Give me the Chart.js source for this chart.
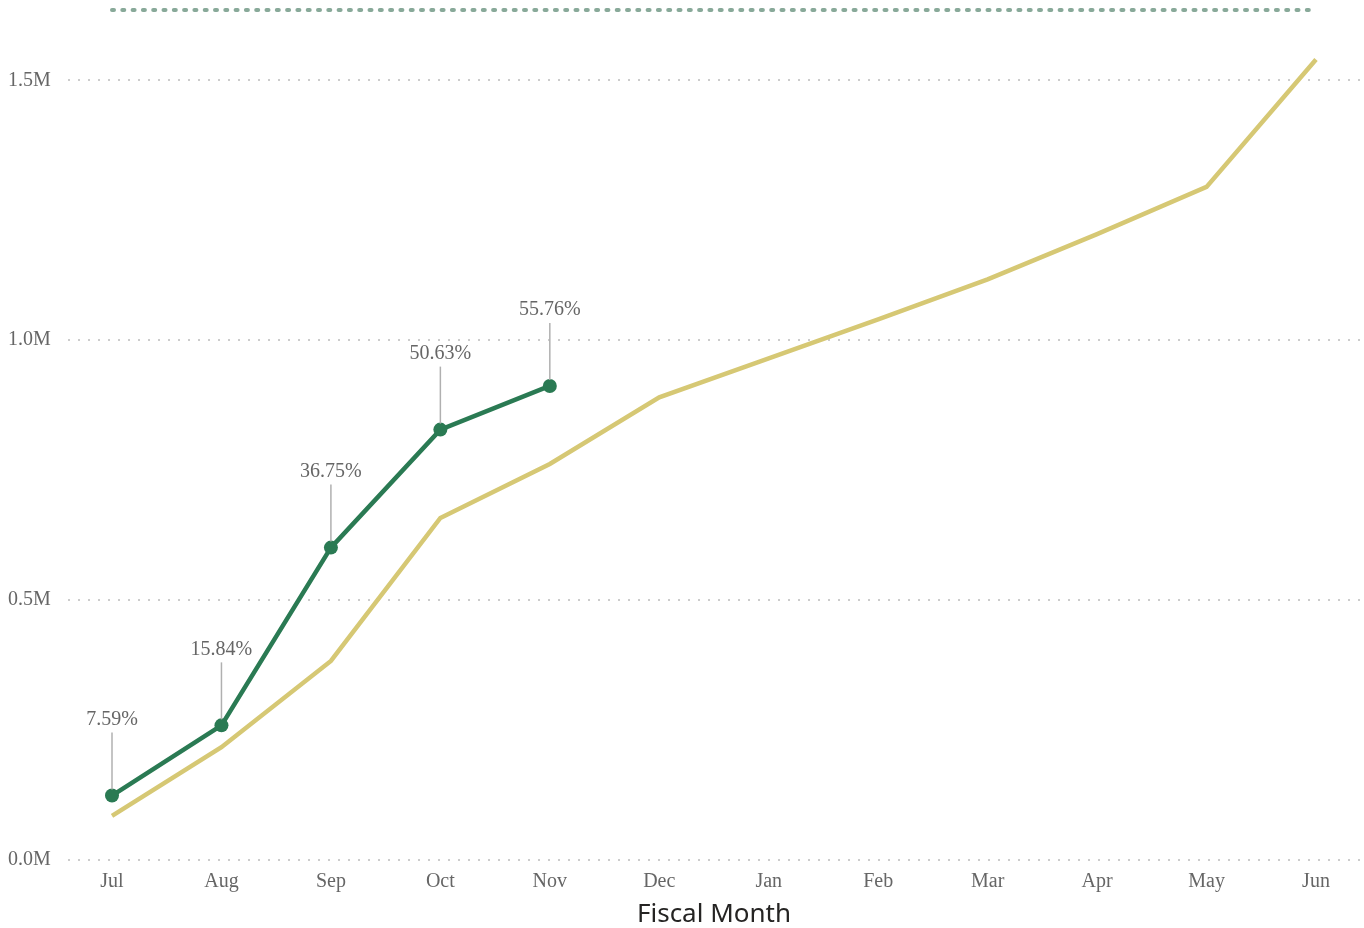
<!DOCTYPE html>
<html>
<head>
<meta charset="utf-8">
<script src="https://cdn.jsdelivr.net/npm/chart.js@4.4.1/dist/chart.umd.min.js"></script>
<style>
    html, body { margin: 0; padding: 0; background: #fff; overflow: hidden; }
    #wrap { width: 1364px; height: 928px; }
</style>
</head>
<body>
<div id="wrap"><canvas id="fiscalChart"></canvas></div>
<script>
// Chart data
const months = ['Jul', 'Aug', 'Sep', 'Oct', 'Nov', 'Dec', 'Jan', 'Feb', 'Mar', 'Apr', 'May', 'Jun'];
const actualValues = [124000, 259000, 601000, 828000, 912000, null, null, null, null, null, null, null];
const budgetValues = [85000, 217000, 383000, 658000, 762000, 890000, 965000, 1040000, 1117000, 1204000, 1295000, 1540000];
const targetValues = [1635000, 1635000, 1635000, 1635000, 1635000, 1635000, 1635000, 1635000, 1635000, 1635000, 1635000, 1635000];
const pctLabels = ['7.59%', '15.84%', '36.75%', '50.63%', '55.76%'];
const yTicks = [0, 500000, 1000000, 1500000];

const serif = '"Liberation Serif", "Times New Roman", serif';

// dotted horizontal gridlines, wider than the plot area
const dottedGrid = {
    id: 'dottedGrid',
    beforeDatasetsDraw(chart) {
        const ctx = chart.ctx;
        const y = chart.scales.y;
        ctx.save();
        ctx.fillStyle = '#cccccc';
        yTicks.forEach(v => {
            const py = Math.round(y.getPixelForValue(v));
            for (let x = 68; x < 1360; x += 10) {
                ctx.fillRect(x, py - 1, 2, 2);
            }
        });
        ctx.restore();
    }
};

// percentage callouts with leader lines above the actual points
const pctCallouts = {
    id: 'pctCallouts',
    afterDatasetsDraw(chart) {
        const ctx = chart.ctx;
        const meta = chart.getDatasetMeta(0);
        ctx.save();
        pctLabels.forEach((txt, i) => {
            const pt = meta.data[i];
            if (!pt) return;
            ctx.strokeStyle = '#b0b0b0';
            ctx.lineWidth = 1.5;
            ctx.beginPath();
            ctx.moveTo(pt.x, pt.y - 6);
            ctx.lineTo(pt.x, pt.y - 63);
            ctx.stroke();
            ctx.fillStyle = '#666666';
            ctx.font = '20px ' + serif;
            ctx.textAlign = 'center';
            ctx.textBaseline = 'middle';
            ctx.fillText(txt, pt.x, pt.y - 76);
        });
        ctx.restore();
    }
};

new Chart(document.getElementById('fiscalChart'), {
    type: 'line',
    data: {
        labels: months,
        datasets: [
            {
                label: 'Actual',
                data: actualValues,
                borderColor: '#2a7a53',
                backgroundColor: '#2a7a53',
                borderWidth: 4.5,
                pointRadius: 7,
                pointHoverRadius: 7,
                pointBorderWidth: 0,
                spanGaps: false,
                order: 0
            },
            {
                label: 'Budget',
                data: budgetValues,
                borderColor: '#d6c874',
                borderWidth: 4.5,
                pointRadius: 0,
                order: 1
            },
            {
                label: 'Target',
                data: targetValues,
                borderColor: '#88a999',
                borderWidth: 4,
                borderDash: [2, 8.3],
                borderCapStyle: 'round',
                pointRadius: 0,
                order: 2
            }
        ]
    },
    options: {
        responsive: true,
        maintainAspectRatio: false,
        animation: false,
        layout: { padding: { left: 8, right: 48, top: 2, bottom: 0 } },
        plugins: {
            legend: { display: false },
            tooltip: { enabled: false }
        },
        scales: {
            x: {
                offset: false,
                grid: { display: false, drawTicks: false },
                border: { display: false },
                afterFit(scale) {
                    scale.height = 68;
                },
                ticks: {
                    color: '#666666',
                    font: { family: serif, size: 20 },
                    padding: 10,
                    maxRotation: 0,
                    autoSkip: false
                },
                title: {
                    display: true,
                    text: 'Fiscal Month',
                    color: '#252423',
                    font: { family: '"Noto Sans", "Open Sans", sans-serif', size: 26 },
                    padding: { top: 0, bottom: -2 }
                }
            },
            y: {
                min: 0,
                max: 1641000,
                grid: { display: false, drawTicks: false },
                border: { display: false },
                afterBuildTicks(scale) {
                    scale.ticks = yTicks.map(v => ({ value: v }));
                },
                afterFit(scale) {
                    scale.width = 104;
                    scale.paddingTop = 0;
                    scale.paddingBottom = 0;
                },
                ticks: {
                    crossAlign: 'far',
                    color: '#666666',
                    font: { family: serif, size: 20 },
                    callback: v => (v / 1000000).toFixed(1) + 'M'
                }
            }
        }
    },
    plugins: [dottedGrid, pctCallouts]
});
</script>
</body>
</html>
